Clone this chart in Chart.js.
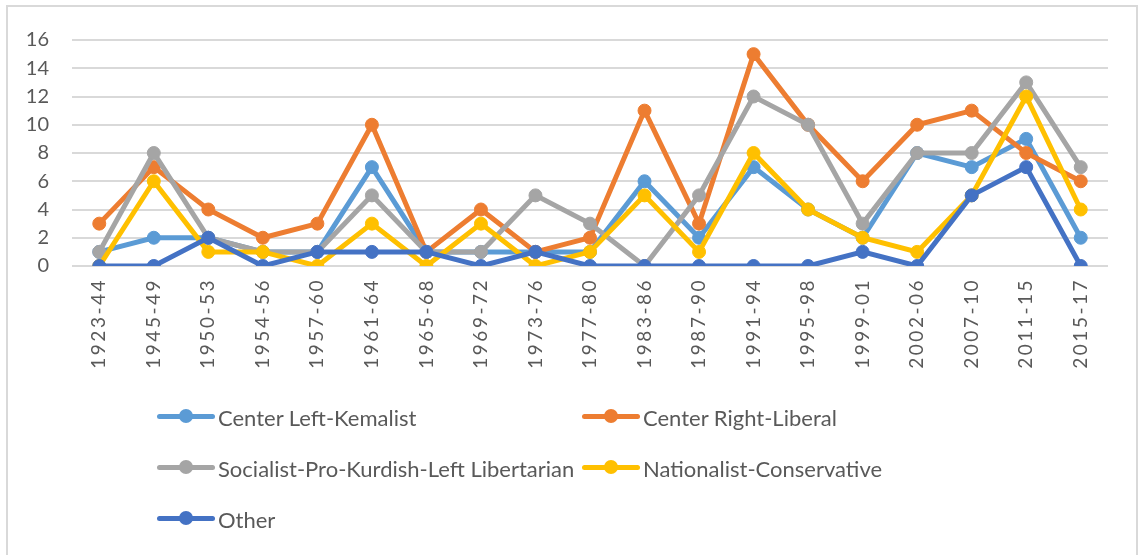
<!DOCTYPE html>
<html>
<head>
<meta charset="utf-8">
<script src="https://cdn.jsdelivr.net/npm/chart.js@4/dist/chart.umd.min.js"></script>
<style>
  html, body { margin:0; padding:0; background:#fff; overflow:hidden; }
  #wrap { position:relative; width:1143px; height:555px; }
  #frame { position:absolute; left:6px; top:5px; width:1132px; height:600px; border:2px solid #d9d9d9; box-sizing:border-box; pointer-events:none; }
  #legend { position:absolute; left:0; top:0; width:1143px; height:555px; pointer-events:none; font-family:Lato, "Open Sans", sans-serif; font-size:22px; color:#595959; }
  .item { position:absolute; display:flex; align-items:center; height:30px; white-space:nowrap; }
  .swatch { position:relative; width:58px; height:30px; margin-right:3px; }
  .swatch .ln { position:absolute; left:0; right:0; top:12px; height:5px; border-radius:3px; }
  .swatch .dot { position:absolute; left:22px; top:7px; width:14px; height:14px; border-radius:50%; }
</style>
</head>
<body>
<div id="wrap">
  <canvas id="chart" width="1143" height="555"></canvas>
  <div id="frame"></div>
  <div id="legend"></div>
</div>
<script>
const periods = ["1923-44","1945-49","1950-53","1954-56","1957-60","1961-64","1965-68","1969-72","1973-76","1977-80","1983-86","1987-90","1991-94","1995-98","1999-01","2002-06","2007-10","2011-15","2015-17"];

const centerLeft  = [1,2,2,1,1,7,1,1,1,1,6,2,7,4,2,8,7,9,2];
const centerRight = [3,7,4,2,3,10,1,4,1,2,11,3,15,10,6,10,11,8,6];
const socialist   = [1,8,2,1,1,5,1,1,5,3,0,5,12,10,3,8,8,13,7];
const nationalist = [0,6,1,1,0,3,0,3,0,1,5,1,8,4,2,1,5,12,4];
const other       = [0,0,2,0,1,1,1,0,1,0,0,0,0,0,1,0,5,7,0];

const seriesNames = ["Center Left-Kemalist","Center Right-Liberal","Socialist-Pro-Kurdish-Left Libertarian","Nationalist-Conservative","Other"];
const seriesData = [centerLeft, centerRight, socialist, nationalist, other];
const colors = ["#5b9bd5","#ed7d31","#a5a5a5","#ffc000","#4472c4"];

const yTicks = [0,2,4,6,8,10,12,14,16];

const textColor = "#595959";

// x labels in the picture are spaced out a bit
const spacedTicks = {
  id: "spacedTicks",
  beforeDraw(chart){
    const s = chart.scales.x;
    if(s._spaced) return;
    const orig = s.drawLabels;
    s.drawLabels = function(area){
      const c = this.ctx;
      c.save();
      c.letterSpacing = "2.5px";
      orig.call(this, area);
      c.restore();
    };
    s._spaced = true;
  }
};

const datasets = seriesNames.map((name, i) => ({
  label: name,
  data: seriesData[i],
  borderColor: colors[i],
  backgroundColor: colors[i],
  pointBackgroundColor: colors[i],
  pointBorderColor: colors[i],
  borderWidth: 5,
  pointRadius: 6.5,
  pointBorderWidth: 1,
  tension: 0,
  order: seriesNames.length - i   // later series on top, like the original
}));

const chart = new Chart(document.getElementById("chart").getContext("2d"), {
  type: "line",
  data: { labels: periods, datasets },
  plugins: [spacedTicks],
  options: {
    responsive: false,
    animation: false,
    layout: { padding: { left: 0, top: 40, right: 35, bottom: 159 } },
    plugins: { legend: { display: false }, tooltip: { enabled: false } },
    scales: {
      x: {
        offset: true,
        grid: { display: false, drawTicks: false },
        border: { display: false },
        ticks: {
          color: textColor,
          font: { family: "Lato", size: 19 },
          minRotation: 90, maxRotation: 90,
          autoSkip: false,
          padding: 12
        },
        afterFit(scale){ scale.height = 130; }
      },
      y: {
        min: 0, max: 16,
        afterBuildTicks(scale){ scale.ticks = yTicks.map(v => ({ value: v })); },
        grid: { color: "#d9d9d9", lineWidth: 2, drawTicks: false },
        border: { display: false },
        ticks: {
          color: textColor,
          font: { family: "Lato", size: 20 },
          padding: 23
        },
        afterFit(scale){ scale.width = 72; }
      }
    }
  }
});

// legend in two columns like the original
const legendPos = [
  [157, 417], [582, 417],
  [157, 468], [582, 468],
  [157, 519]
];
const legendEl = document.getElementById("legend");
seriesNames.forEach((name, i) => {
  const it = document.createElement("div");
  it.className = "item";
  it.style.left = legendPos[i][0] + "px";
  it.style.top = (legendPos[i][1] - 15) + "px";
  it.innerHTML = '<div class="swatch"><div class="ln" style="background:' + colors[i] + '"></div><div class="dot" style="background:' + colors[i] + '"></div></div><span>' + name + '</span>';
  legendEl.appendChild(it);
});
</script>
</body>
</html>
